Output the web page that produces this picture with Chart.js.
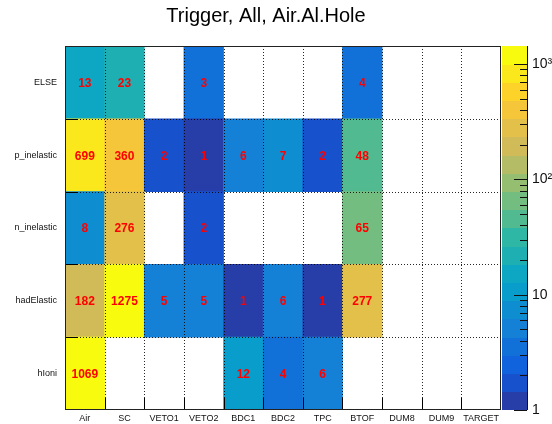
<!DOCTYPE html>
<html>
<head>
<meta charset="utf-8">
<script src="https://cdn.jsdelivr.net/npm/chart.js@4.4.1/dist/chart.umd.min.js"></script>
<style>
  html, body { margin: 0; padding: 0; background: #fff; }
  #wrap { width: 552px; height: 424px; }
</style>
</head>
<body>
<div id="wrap"><canvas id="c" width="552" height="424"></canvas></div>
<script>
// ---- data ----
const xLabels = ['Air', 'SC', 'VETO1', 'VETO2', 'BDC1', 'BDC2', 'TPC', 'BTOF', 'DUM8', 'DUM9', 'TARGET'];
const yLabels = ['hIoni', 'hadElastic', 'n_inelastic', 'p_inelastic', 'ELSE'];
const hIoni      = [1069, 0,    0, 0, 12, 4, 6, 0,   0, 0, 0];
const hadElastic = [182,  1275, 5, 5, 1,  6, 1, 277, 0, 0, 0];
const nInelastic = [8,    276,  0, 2, 0,  0, 0, 65,  0, 0, 0];
const pInelastic = [699,  360,  2, 1, 6,  7, 2, 48,  0, 0, 0];
const elseRow    = [13,   23,   0, 3, 0,  0, 0, 4,   0, 0, 0];
const rows = [hIoni, hadElastic, nInelastic, pInelastic, elseRow];
const zTickValues = [1, 10, 100, 1000];
const zTickLabels = ['1', '10', '10²', '10³'];
const zMin = 1, zMax = 1435;
const nContours = 20;

// ---- ROOT kBird palette ----
const stops = [0, 0.125, 0.25, 0.375, 0.5, 0.625, 0.75, 0.875, 1];
const red   = [0.2082, 0.0592, 0.0780, 0.0232, 0.1802, 0.5301, 0.8186, 0.9956, 0.9764];
const green = [0.1664, 0.3599, 0.5041, 0.6419, 0.7178, 0.7492, 0.7328, 0.7862, 0.9832];
const blue  = [0.5293, 0.8684, 0.8385, 0.7914, 0.6425, 0.4662, 0.3499, 0.1968, 0.0539];
function paletteAt(t) {
  let g = 1;
  while (g < stops.length - 1 && t > stops[g]) g++;
  const f = (t - stops[g - 1]) / (stops[g] - stops[g - 1]);
  const c = (a) => Math.round(255 * (a[g - 1] + f * (a[g] - a[g - 1])));
  return `rgb(${c(red)},${c(green)},${c(blue)})`;
}
function bandColor(band) {
  const idx = Math.floor((band + 0.99) * 255 / nContours);
  return paletteAt(Math.min(idx, 254) / 254);
}
function valueColor(v) {
  const lmin = Math.log10(zMin), lmax = Math.log10(zMax);
  let band = Math.floor(0.01 + (Math.log10(v) - lmin) * nContours / (lmax - lmin));
  band = Math.max(0, Math.min(nContours - 1, band));
  return bandColor(band);
}

const datasets = rows.map((vals, r) => ({
  label: yLabels[r],
  data: vals.map(v => v > 0 ? [r, r + 1] : null),
  values: vals,
  backgroundColor: vals.map(v => v > 0 ? valueColor(v) : 'rgba(0,0,0,0)'),
  borderWidth: 0,
  grouped: false,
  barPercentage: 1,
  categoryPercentage: 1
}));

const FONT = '"Liberation Sans", Arial, Helvetica, sans-serif';

const heatPlugin = {
  id: 'heat',
  afterDatasetsDraw(chart) {
    const { ctx, chartArea: a, scales } = chart;
    const x = scales.x, y = scales.y, z = scales.z;
    ctx.save();
    // cell texts
    ctx.fillStyle = '#ff0000';
    ctx.font = 'bold 12px ' + FONT;
    ctx.textAlign = 'center';
    ctx.textBaseline = 'middle';
    chart.data.datasets.forEach((ds, d) => {
      const meta = chart.getDatasetMeta(d);
      ds.values.forEach((v, i) => {
        if (v > 0) {
          const el = meta.data[i];
          ctx.fillText(String(v), el.x, (el.y + el.base) / 2 + 1);
        }
      });
    });
    // dotted grid at bin edges
    ctx.strokeStyle = 'rgba(0,0,0,0.85)';
    ctx.lineWidth = 1;
    ctx.setLineDash([1, 2]);
    const colW = x.getPixelForValue(1) - x.getPixelForValue(0);
    for (let i = 1; i < xLabels.length; i++) {
      const px = Math.round(x.getPixelForValue(i) - colW / 2) + 0.5;
      ctx.beginPath(); ctx.moveTo(px, a.top); ctx.lineTo(px, a.bottom); ctx.stroke();
    }
    for (let j = 1; j < yLabels.length; j++) {
      const py = Math.round(y.getPixelForValue(j)) + 0.5;
      ctx.beginPath(); ctx.moveTo(a.left, py); ctx.lineTo(a.right, py); ctx.stroke();
    }
    ctx.setLineDash([]);
    // inner tick marks
    ctx.strokeStyle = '#000';
    for (let i = 1; i < xLabels.length; i++) {
      const px = Math.round(x.getPixelForValue(i) - colW / 2) + 0.5;
      ctx.beginPath(); ctx.moveTo(px, a.bottom); ctx.lineTo(px, a.bottom - 12); ctx.stroke();
    }
    for (let j = 1; j < yLabels.length; j++) {
      const py = Math.round(y.getPixelForValue(j)) + 0.5;
      ctx.beginPath(); ctx.moveTo(a.left, py); ctx.lineTo(a.left + 13, py); ctx.stroke();
    }
    // frame
    ctx.strokeStyle = '#222';
    ctx.strokeRect(Math.round(a.left) + 0.5, Math.round(a.top) + 0.5,
                   Math.round(a.right) - Math.round(a.left) - 1, Math.round(a.bottom) - Math.round(a.top) - 1);
    // color bar
    const x0 = Math.round(z.left) + 1, x1 = Math.round(z.left) + 26;
    const lmin = Math.log10(zMin), lmax = Math.log10(zMax);
    for (let k = 0; k < nContours; k++) {
      const vLo = Math.pow(10, lmin + k * (lmax - lmin) / nContours);
      const vHi = Math.pow(10, lmin + (k + 1) * (lmax - lmin) / nContours);
      const yLo = z.getPixelForValue(vLo), yHi = z.getPixelForValue(vHi);
      ctx.fillStyle = bandColor(k);
      ctx.fillRect(x0, Math.floor(yHi), x1 - x0, Math.ceil(yLo) - Math.floor(yHi));
    }
    ctx.strokeStyle = '#111';
    ctx.beginPath(); ctx.moveTo(x1 + 0.5, z.top); ctx.lineTo(x1 + 0.5, z.bottom); ctx.stroke();
    // color bar ticks
    for (let dec = 1; dec <= 1000; dec *= 10) {
      for (let m = 1; m <= 9; m++) {
        const v = dec * m;
        if (v < zMin || v > zMax) continue;
        const py = Math.round(z.getPixelForValue(v)) + 0.5;
        const len = m === 1 ? 13 : 7;
        ctx.beginPath(); ctx.moveTo(x1, py); ctx.lineTo(x1 - len, py); ctx.stroke();
      }
    }
    ctx.restore();
  }
};

new Chart(document.getElementById('c'), {
  type: 'bar',
  data: { labels: xLabels, datasets: datasets },
  options: {
    responsive: false,
    animation: false,
    devicePixelRatio: 1,
    layout: { padding: { left: -20, right: 0, top: 0, bottom: 0 } },
    plugins: {
      legend: { display: false },
      tooltip: { enabled: false },
      title: {
        display: true,
        text: 'Trigger, All, Air.Al.Hole',
        color: '#000',
        font: { family: FONT, size: 20, weight: 'normal' },
        padding: { top: 4, bottom: 18 }
      }
    },
    scales: {
      x: {
        type: 'category',
        offset: true,
        grid: { display: false, drawTicks: false },
        border: { display: false },
        ticks: { color: '#111', font: { family: FONT, size: 9 }, padding: 3, maxRotation: 0, autoSkip: false },
        afterFit(s) { s.height = 14; }
      },
      y: {
        type: 'linear',
        min: 0, max: 5,
        grid: { display: false, drawTicks: false },
        border: { display: false },
        afterBuildTicks(s) { s.ticks = yLabels.map((_, i) => ({ value: i + 0.5 })); },
        ticks: {
          color: '#111', font: { family: FONT, size: 9 }, padding: 8, autoSkip: false,
          callback: (v) => yLabels[Math.floor(v)]
        },
        afterFit(s) { s.width = 85; }
      },
      z: {
        type: 'logarithmic',
        position: 'right',
        min: zMin, max: zMax,
        grid: { display: false, drawTicks: true, tickLength: 31 },
        border: { display: false },
        afterBuildTicks(s) { s.ticks = zTickValues.map(v => ({ value: v })); },
        ticks: {
          color: '#111', font: { family: FONT, size: 14 }, padding: 0, autoSkip: false,
          callback: (v) => zTickLabels[zTickValues.indexOf(v)]
        },
        afterFit(s) { s.width = 51; }
      }
    }
  },
  plugins: [heatPlugin]
});
</script>
</body>
</html>
